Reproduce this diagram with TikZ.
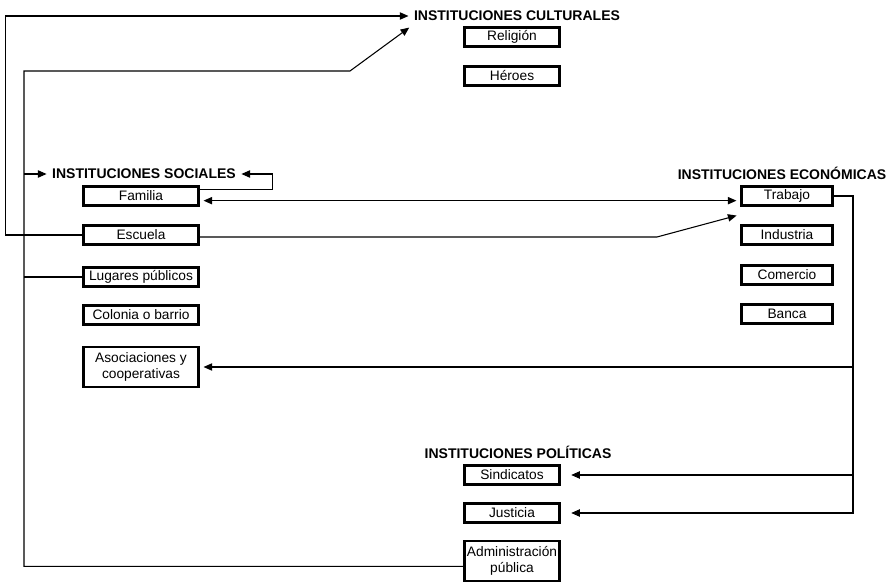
\documentclass[tikz,border=0pt]{standalone}
\usepackage{fontspec}
\setmainfont{Liberation Sans}
\usetikzlibrary{arrows.meta}

\tikzset{
  caja/.style={draw, line width=1.8pt, inner sep=1pt, minimum height=14pt, align=center, font=\fontsize{10.3}{12.5}\selectfont},
  cajaizq/.style={caja, minimum width=86pt},
  cajacen/.style={caja, minimum width=71pt},
  cajader/.style={caja, minimum width=68pt},
  doble/.style={minimum height=30pt},
  titulo/.style={inner sep=1pt, font=\fontsize{10.5}{12}\selectfont\bfseries},
  linea/.style={line width=0.8pt},
  flecha/.style={linea, -{Triangle[length=6.5pt,width=5.5pt]}, shorten >=3pt}
}

\begin{document}
\begin{tikzpicture}[x=0.75pt,y=0.75pt,yscale=-1]
\useasboundingbox (0,0) rectangle (896,588);

% Text Node
\node[titulo] (cultural) at (517,16) {INSTITUCIONES CULTURALES};
\node[cajacen] (religion) at (512,37) {Religión};
\node[cajacen] (heroes) at (512,76) {Héroes};

% Text Node
\node[titulo] (social) at (144,174) {INSTITUCIONES SOCIALES};
\node[cajaizq] (familia) at (141,196) {Familia};
\node[cajaizq] (escuela) at (141,235) {Escuela};
\node[cajaizq] (lugares) at (141,277) {Lugares públicos};
\node[cajaizq] (colonia) at (141,315) {Colonia o barrio};
\node[cajaizq, doble] (asoc) at (141,367) {Asociaciones y\\cooperativas};

% Text Node
\node[titulo] (economica) at (782,173) {INSTITUCIONES ECONÓMICAS};
\node[cajader] (trabajo) at (787,196) {Trabajo};
\node[cajader] (industria) at (787,235) {Industria};
\node[cajader] (comercio) at (787,275) {Comercio};
\node[cajader] (banca) at (787,314) {Banca};

% Text Node
\node[titulo] (politica) at (518,452) {INSTITUCIONES POLÍTICAS};
\node[cajacen] (sindicatos) at (512,475) {Sindicatos};
\node[cajacen] (justicia) at (512,513) {Justicia};
\node[cajacen, doble] (admin) at (512,561) {Administración\\pública};

% bends
\coordinate (esq) at (24,71);
\coordinate (codo) at (350,71);
\coordinate (quiebre) at (657,237);
\coordinate (bus) at (853,196);

%Straight Lines
\draw[flecha] (escuela.west) -- ++(-77,0) |- (cultural.west);
\draw[flecha] ([yshift=4pt]admin.west) -| (esq) -- (codo) -- ([yshift=2pt]cultural.south west);
\draw[flecha] (social.west -| esq) -- (social.west);
\draw[linea] (lugares.west -| esq) -- (lugares.west);

%Straight Lines
\draw[flecha] ([yshift=3pt]familia.north east) -- ++(73,0) |- (social.east);
\draw[linea, {Triangle[length=6.5pt,width=5.5pt]}-{Triangle[length=6.5pt,width=5.5pt]}, shorten <=3pt, shorten >=3pt] ([yshift=3.5pt]familia.east) -- ([yshift=3.5pt]familia.east -| trabajo.west);
\draw[flecha] ([yshift=1.5pt]escuela.east) -- (quiebre) -- ([yshift=6pt]trabajo.south west);

%Straight Lines
\draw[flecha, shorten >=8pt] (trabajo.east) -- (bus) |- (justicia.east);
\draw[flecha] (bus |- asoc.east) -- (asoc.east);
\draw[flecha, shorten >=8pt] (bus |- sindicatos.east) -- (sindicatos.east);
\end{tikzpicture}
\end{document}
